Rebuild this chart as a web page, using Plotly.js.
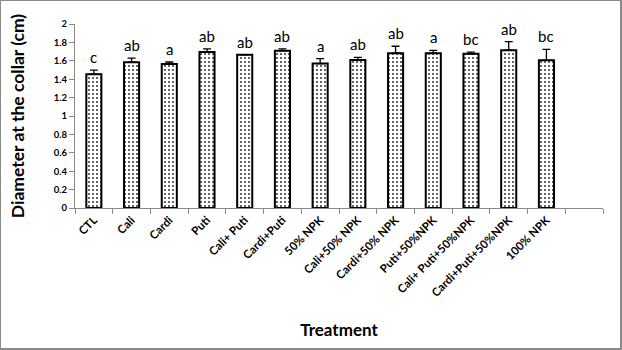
<!DOCTYPE html>
<html><head><meta charset="utf-8">
<script src="https://cdn.plot.ly/plotly-3.0.1.min.js"></script>
<style>
html,body{margin:0;padding:0;background:#fff;}
#wrap{position:relative;width:622px;height:350px;}
#chart{width:622px;height:350px;}
#frame{position:absolute;left:0;top:0;width:622px;height:350px;box-sizing:border-box;border:1px solid #8a8a8a;border-right-width:2px;border-bottom-width:2px;pointer-events:none;}
</style></head>
<body>
<div id="wrap"><div id="chart"></div><div id="frame"></div></div>
<script>
const categories = ["CTL","Cali","Cardi","Puti","Cali+ Puti","Cardi+Puti","50% NPK","Cali+50% NPK","Cardi+50% NPK","Puti+50%NPK","Cali+ Puti+50%NPK","Cardi+Puti+50%NPK","100% NPK"];
const values = [1.455, 1.585, 1.565, 1.697, 1.665, 1.708, 1.57, 1.608, 1.683, 1.683, 1.676, 1.715, 1.605];
const errors = [0.043, 0.043, 0.022, 0.033, 0.0, 0.022, 0.054, 0.03, 0.075, 0.03, 0.018, 0.094, 0.12];
const letters = ["c","ab","a","ab","ab","ab","a","ab","ab","a","bc","ab","bc"];
const emptySlot = " ";

const font = "Lato, 'Open Sans', sans-serif";

const trace = {
  type: 'bar',
  x: categories,
  y: values,
  width: 0.4,
  marker: {
    color: '#ffffff',
    line: {color: '#000000', width: 2},
    pattern: {shape: '.', fgcolor: '#333333', bgcolor: '#ffffff', size: 4, solidity: 0.2}
  },
  error_y: {type: 'data', symmetric: false, array: errors, arrayminus: errors.map(() => 0), color: '#000000', thickness: 1.3, width: 4},
  hoverinfo: 'none'
};

const annotations = categories.map((c, i) => ({
  x: c, y: values[i] + errors[i], xref: 'x', yref: 'y',
  text: letters[i], showarrow: false, yanchor: 'bottom', yshift: 2,
  font: {family: font, size: 15, color: '#000'}
}));

const layout = {
  width: 622, height: 350,
  margin: {l: 75, r: 19, t: 24, b: 142},
  paper_bgcolor: '#ffffff', plot_bgcolor: '#ffffff',
  showlegend: false,
  xaxis: {
    type: 'category',
    categoryorder: 'array',
    categoryarray: categories.concat([emptySlot]),
    range: [-0.5, 13.5],
    tickson: 'boundaries',
    ticks: 'outside', ticklen: 5, tickcolor: '#8a8a8a',
    showline: true, linecolor: '#8a8a8a', linewidth: 1,
    showgrid: false, zeroline: false,
    tickangle: -45,
    tickfont: {family: font, size: 11.5, color: '#000', weight: 'bold'},
    title: {text: 'Treatment', font: {family: font, size: 17, color: '#000', weight: 'bold'}, standoff: 26}
  },
  yaxis: {
    range: [0, 2],
    dtick: 0.2,
    ticks: 'outside', ticklen: 5, tickcolor: '#8a8a8a',
    showline: true, linecolor: '#8a8a8a', linewidth: 1,
    showgrid: false, zeroline: false,
    tickfont: {family: font, size: 9.5, color: '#000', weight: 'bold'},
    title: {text: 'Diameter at the collar (cm)', font: {family: font, size: 17.5, color: '#000', weight: 'bold'}, standoff: 24}
  },
  annotations: annotations
};

Plotly.newPlot('chart', [trace], layout, {staticPlot: true, displayModeBar: false});
</script>
</body></html>
